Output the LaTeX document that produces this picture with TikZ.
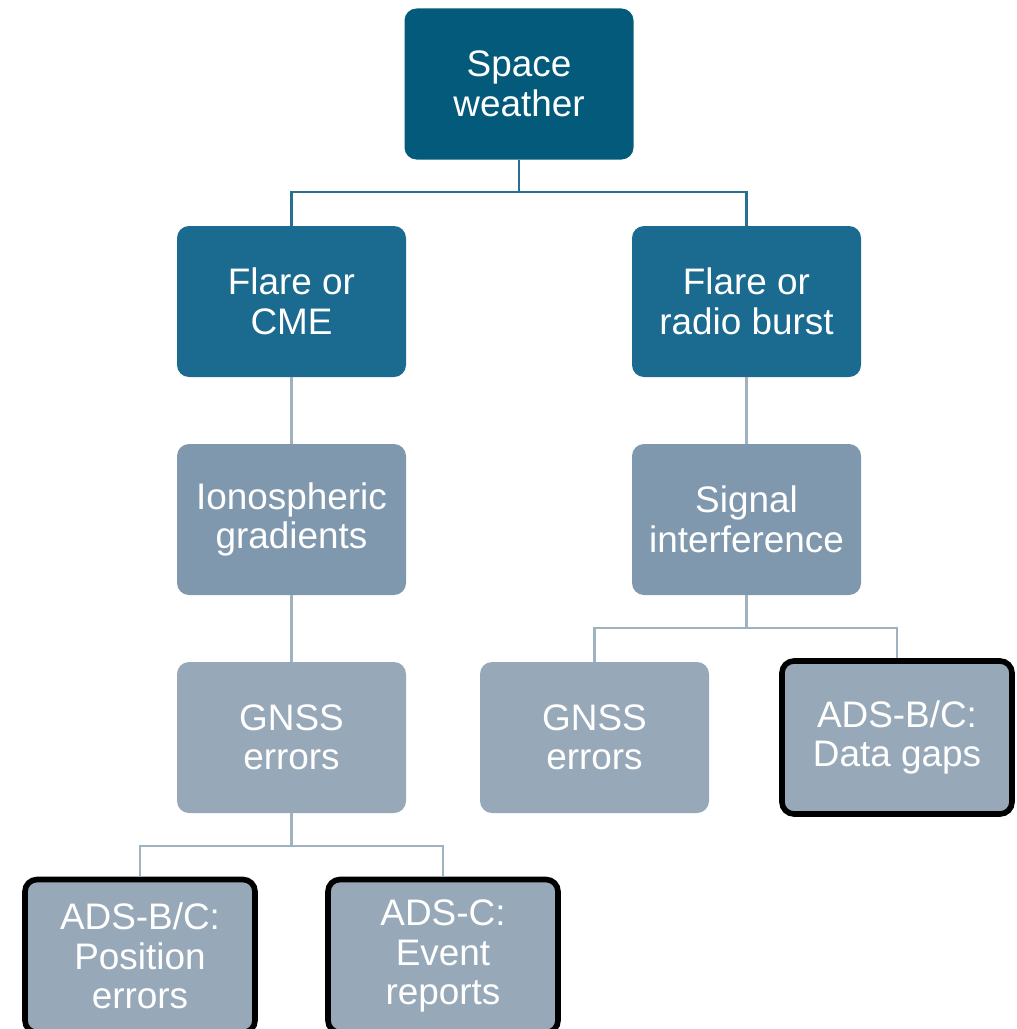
\documentclass[tikz,border=0pt]{standalone}
\usepackage{fontspec}
\setmainfont{Liberation Sans}
\usepackage{xcolor}
\usetikzlibrary{positioning,calc}

\definecolor{topblue}{RGB}{4,90,122}
\definecolor{midblue}{RGB}{27,106,143}
\definecolor{slate}{RGB}{127,152,173}
\definecolor{paleslate}{RGB}{151,169,184}
\definecolor{darkline}{RGB}{42,111,144}
\definecolor{paleline}{RGB}{159,178,192}

\tikzset{
    box/.style={rectangle, rounded corners=0.24cm, minimum width=4.58cm, minimum height=3.02cm,
        text=white, align=center, font=\fontsize{21}{22.5}\selectfont, inner sep=2pt},
    impact/.style={box, fill=paleslate, draw=black, line width=3.2pt, minimum width=4.6cm, minimum height=3.06cm},
    link/.style={draw=paleline, line width=1.2pt},
}

\begin{document}
\begin{tikzpicture}
    \useasboundingbox (0,0) rectangle (20.32,-20.58);

    % tree of boxes
    \node[box, fill=topblue] (sw) at (10.38,-1.68) {Space\\weather};
    \node[box, fill=midblue] (cme) at (5.83,-6.03) {Flare or\\CME};
    \node[box, fill=midblue] (radio) at (14.93,-6.03) {Flare or\\radio burst};
    \node[box, fill=slate] (iono) at (5.83,-10.39) {Ionospheric\\gradients};
    \node[box, fill=slate] (sig) at (14.93,-10.39) {Signal\\interference};
    \node[box, fill=paleslate] (gnssL) at (5.83,-14.75) {GNSS\\errors};
    \node[box, fill=paleslate] (gnssR) at (11.89,-14.75) {GNSS\\errors};
    \node[impact] (gaps) at (17.94,-14.75) {ADS-B/C:\\Data gaps};
    \node[impact] (pos) at (2.80,-19.12) {ADS-B/C:\\Position\\errors};
    \node[impact] (evt) at (8.86,-19.12) {ADS-C:\\Event\\reports};

    % bus points
    \coordinate (bus1) at (10.38,-3.84);
    \coordinate (bus2) at (14.93,-12.56);
    \coordinate (bus3) at (5.83,-16.92);

    \draw[link, draw=darkline] (sw.south) -- (bus1) -| (cme.north);
    \draw[link, draw=darkline] (bus1) -| (radio.north);
    \draw[link] (cme.south) -- (iono.north);
    \draw[link] (radio.south) -- (sig.north);
    \draw[link] (iono.south) -- (gnssL.north);
    \draw[link] (sig.south) -- (bus2) -| (gnssR.north);
    \draw[link] (bus2) -| (gaps.north);
    \draw[link] (gnssL.south) -- (bus3) -| (pos.north);
    \draw[link] (bus3) -| (evt.north);
\end{tikzpicture}
\end{document}
